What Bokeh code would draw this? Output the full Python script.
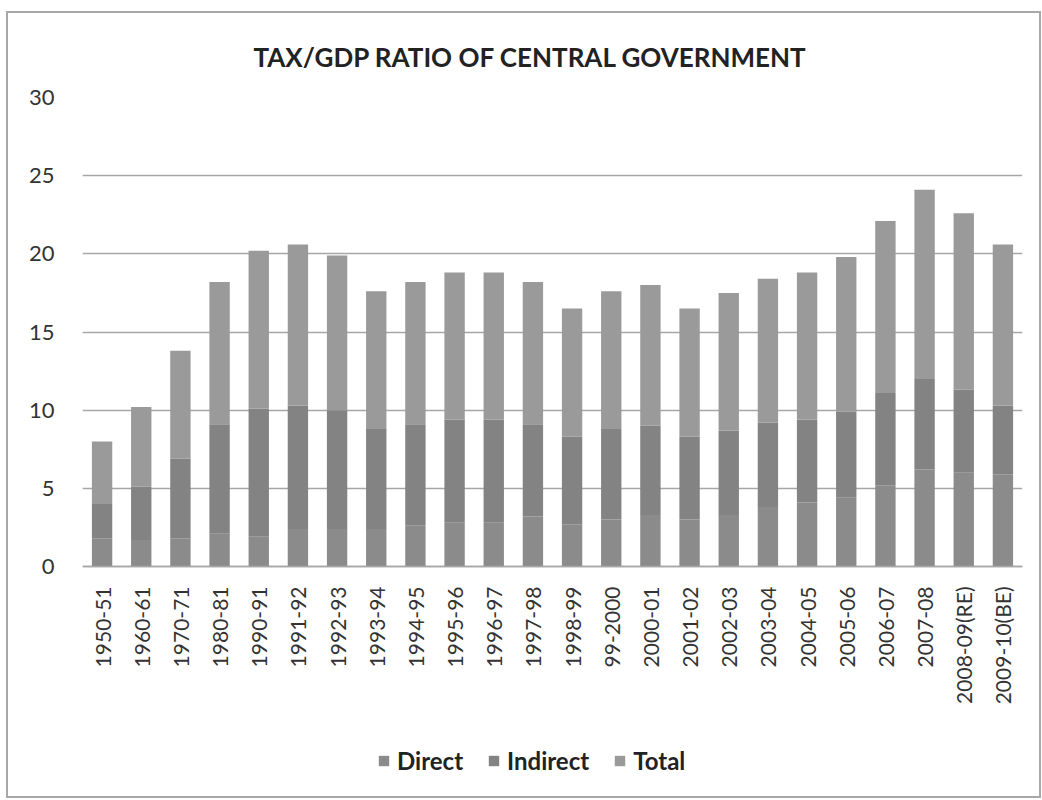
import math
from bokeh.plotting import figure
from bokeh.models import Range1d, FactorRange, FixedTicker, Legend, LegendItem
from bokeh.embed import file_html
from bokeh.resources import INLINE

categories = ["1950-51", "1960-61", "1970-71", "1980-81", "1990-91", "1991-92",
              "1992-93", "1993-94", "1994-95", "1995-96", "1996-97", "1997-98",
              "1998-99", "99-2000", "2000-01", "2001-02", "2002-03", "2003-04",
              "2004-05", "2005-06", "2006-07", "2007-08", "2008-09(RE)", "2009-10(BE)"]
direct = [1.8, 1.7, 1.8, 2.1, 1.9, 2.4, 2.4, 2.4, 2.6, 2.8, 2.8, 3.2,
          2.7, 3.0, 3.3, 3.0, 3.3, 3.8, 4.1, 4.4, 5.2, 6.2, 6.0, 5.9]
indirect = [2.2, 3.4, 5.1, 7.0, 8.2, 7.9, 7.6, 6.4, 6.5, 6.6, 6.6, 5.9,
            5.6, 5.8, 5.7, 5.3, 5.4, 5.4, 5.3, 5.5, 5.9, 5.8, 5.3, 4.4]
total = [4.0, 5.1, 6.9, 9.1, 10.1, 10.3, 9.9, 8.8, 9.1, 9.4, 9.4, 9.1,
         8.2, 8.8, 9.0, 8.2, 8.8, 9.2, 9.4, 9.9, 11.0, 12.1, 11.3, 10.3]
y_ticks = [0, 5, 10, 15, 20, 25, 30]
series = ["Direct", "Indirect", "Total"]
colors = ["#8b8b8b", "#838383", "#9a9a9a"]

data = dict(cat=categories, Direct=direct, Indirect=indirect, Total=total)

# frame spans from y=97 (value 30) down to y=795; value 0 sits at y=566
px_per_unit = (566 - 97) / 30.0
y_start = -(795 - 566) / px_per_unit

p = figure(x_range=FactorRange(*categories, range_padding=0), y_range=Range1d(y_start, 30),
           width=1035, height=787, output_backend="svg", toolbar_location=None,
           min_border_left=74, min_border_right=21, min_border_top=84, min_border_bottom=5)
p.margin = (11, 0, 0, 6)
p.styles = {"border": "2px solid #a8a8a8"}

rs = p.vbar_stack(series, x="cat", width=0.52, color=colors, line_color=None, source=data)

p.title.text = "TAX/GDP RATIO OF CENTRAL GOVERNMENT"
p.title.align = "left"
p.title.offset = 171
p.title.text_font = "Lato"
p.title.text_font_size = "26px"
p.title.text_font_style = "bold"
p.title.text_color = "#222222"
p.title.standoff = 50

p.outline_line_color = None
p.xgrid.grid_line_color = None
p.ygrid.grid_line_color = "#a6a6a6"
p.ygrid.grid_line_width = 1.5
p.yaxis.ticker = FixedTicker(ticks=y_ticks)
p.yaxis.axis_line_color = None
p.yaxis.major_tick_line_color = None
p.yaxis.minor_tick_line_color = None
p.yaxis.major_label_text_font = "Lato"
p.yaxis.major_label_text_font_size = "22px"
p.yaxis.major_label_text_color = "#333333"
p.yaxis.major_label_standoff = 22

p.xaxis.fixed_location = 0
p.xaxis.axis_line_color = "#a6a6a6"
p.xaxis.axis_line_width = 1.5
p.xaxis.major_tick_line_color = None
p.xaxis.minor_tick_line_color = None
p.xaxis.major_label_orientation = math.pi / 2
p.xaxis.major_label_text_font = "Lato"
p.xaxis.major_label_text_font_size = "21px"
p.xaxis.major_label_text_color = "#333333"
p.xaxis.major_label_standoff = 14

legend = Legend(items=[LegendItem(label=s, renderers=[r]) for s, r in zip(series, rs)],
                orientation="horizontal", location=(295, 20))
legend.border_line_color = None
legend.background_fill_alpha = 0
legend.padding = 0
legend.margin = 0
legend.glyph_width = 13
legend.glyph_height = 13
legend.label_standoff = 7
legend.spacing = 24
legend.label_text_font = "Lato"
legend.label_text_font_size = "24px"
legend.label_text_font_style = "bold"
legend.label_text_color = "#222222"
p.add_layout(legend, "center")

open("out.html", "w").write(file_html(p, INLINE))
